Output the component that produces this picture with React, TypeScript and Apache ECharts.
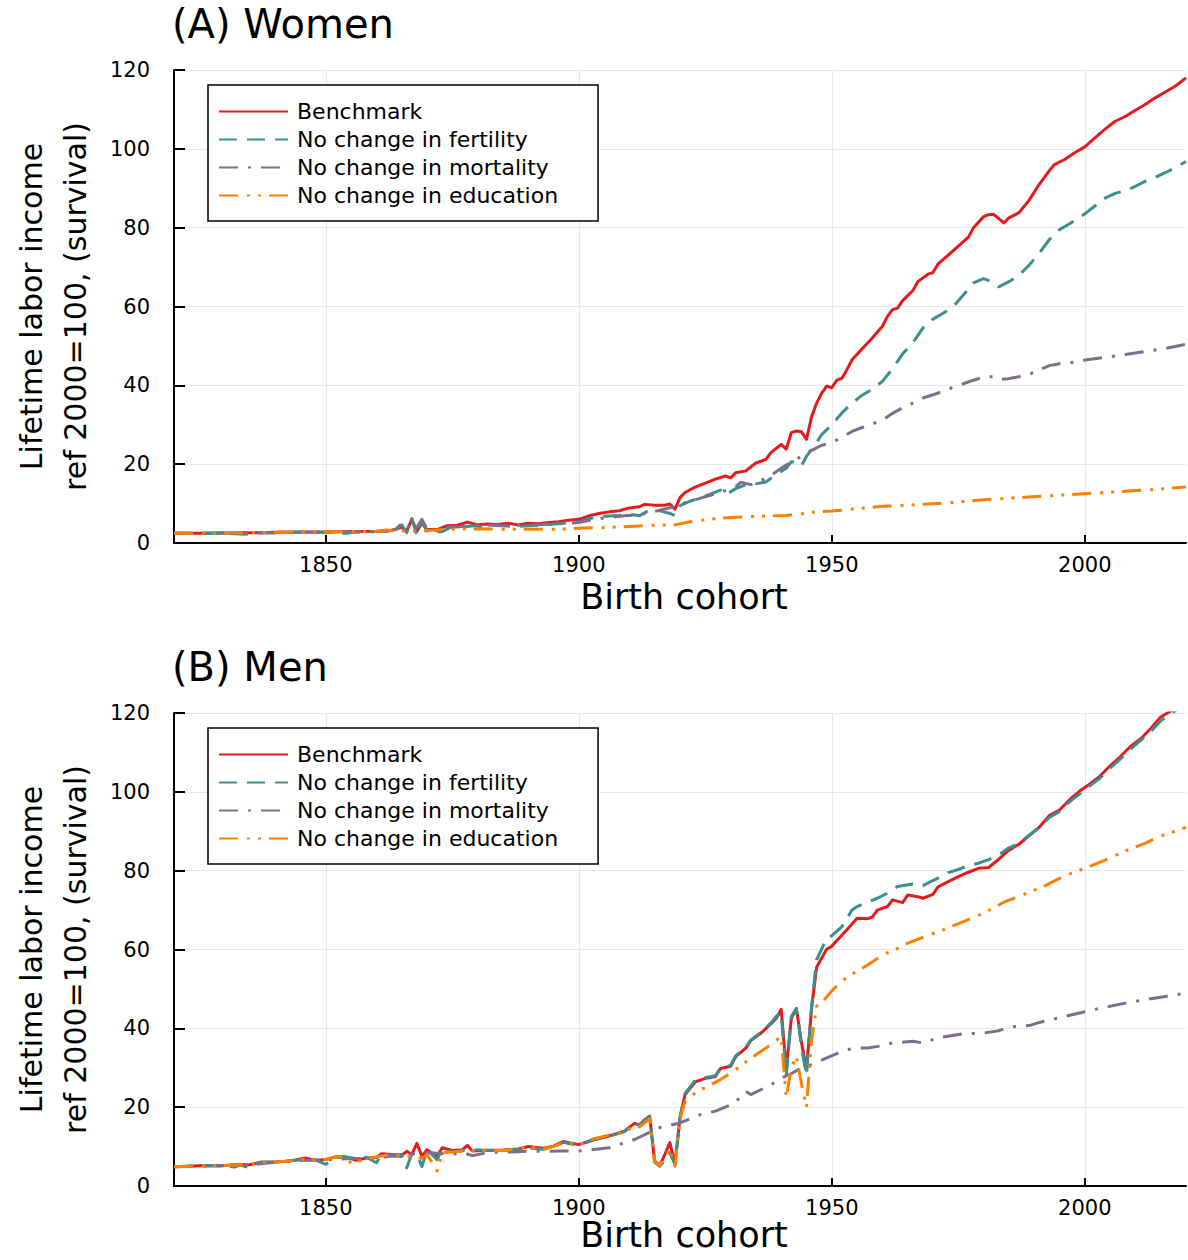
import React, { useEffect, useRef } from "react";
import * as echarts from "echarts";

type Pt = [number, number];

const seriesNames = [
  "Benchmark",
  "No change in fertility",
  "No change in mortality",
  "No change in education",
];
const panelTitles = ["(A) Women", "(B) Men"];
const xTickValues = [1850, 1900, 1950, 2000];
const yAxisLines = ["Lifetime labor income", "ref 2000=100, (survival)"];
const xAxisTitle = "Birth cohort";

// ---------- Women ----------
const womenBenchmark: Pt[] = [
  [1820, 2.5], [1825, 2.5], [1830, 2.6], [1835, 2.6], [1840, 2.7], [1845, 2.8], [1850, 2.8],
  [1855, 2.9], [1860, 3.0], [1863, 3.2], [1865, 4.0], [1866, 3.0], [1867, 6.0], [1868, 3.0],
  [1869, 5.0], [1870, 3.4], [1872, 3.4], [1874, 4.4], [1876, 4.5], [1878, 5.3], [1880, 4.6],
  [1882, 4.8], [1884, 4.7], [1886, 5.0], [1888, 4.6], [1890, 5.0], [1892, 4.9], [1894, 5.2],
  [1896, 5.4], [1898, 5.8], [1900, 6.0], [1902, 6.9], [1904, 7.5], [1906, 7.9], [1908, 8.2],
  [1910, 8.9], [1912, 9.2], [1913, 9.8], [1915, 9.6], [1917, 9.6], [1918, 9.9], [1919, 8.6],
  [1920, 11.5], [1921, 12.8], [1923, 14.2], [1925, 15.2], [1927, 16.2], [1929, 17.0], [1930, 16.5],
  [1931, 17.8], [1933, 18.3], [1935, 20.3], [1937, 21.2], [1938, 23.0], [1940, 25.0], [1941, 23.8],
  [1942, 28.0], [1943, 28.4], [1944, 28.2], [1945, 26.3], [1946, 32.0], [1947, 35.5], [1948, 38.0],
  [1949, 39.8], [1950, 39.4], [1951, 41.3], [1952, 41.8], [1953, 44.0], [1954, 46.5], [1956, 49.3],
  [1958, 52.0], [1960, 55.0], [1961, 57.5], [1962, 59.2], [1963, 59.6], [1964, 61.5], [1966, 64.0],
  [1967, 66.3], [1969, 68.2], [1970, 68.6], [1971, 70.8], [1973, 73.0], [1975, 75.3], [1977, 77.6],
  [1978, 80.0], [1980, 82.8], [1981, 83.3], [1982, 83.4], [1984, 81.2], [1985, 82.5], [1987, 83.8],
  [1989, 87.0], [1991, 91.0], [1993, 94.5], [1994, 96.0], [1996, 97.3], [1998, 99.0], [2000, 100.5],
  [2002, 102.8], [2004, 105.0], [2006, 107.0], [2008, 108.2], [2010, 109.8], [2012, 111.3],
  [2014, 113.0], [2016, 114.5], [2018, 116.0], [2020, 118.0],
];

const womenFertility: Pt[] = [
  [1820, 2.5], [1825, 2.4], [1830, 2.5], [1834, 2.2], [1836, 2.5], [1840, 2.6], [1845, 2.7],
  [1850, 2.7], [1854, 2.5], [1856, 2.8], [1860, 2.9], [1863, 3.1], [1865, 4.6], [1866, 2.6],
  [1867, 6.2], [1868, 2.0], [1869, 5.5], [1870, 3.0], [1871, 2.6], [1873, 2.9], [1875, 4.2],
  [1877, 4.0], [1879, 4.4], [1881, 4.1], [1883, 4.5], [1886, 4.3], [1888, 4.2], [1890, 4.4],
  [1893, 4.6], [1896, 4.9], [1900, 5.4], [1902, 6.2], [1905, 6.8], [1908, 7.0], [1910, 7.3],
  [1912, 6.9], [1914, 8.4], [1916, 8.2], [1918, 7.5], [1919, 7.0], [1920, 9.5], [1922, 10.6],
  [1924, 11.5], [1926, 12.4], [1928, 13.4], [1929, 12.2], [1931, 13.8], [1933, 14.8], [1935, 15.0],
  [1937, 15.5], [1939, 17.4], [1941, 19.0], [1942, 20.6], [1943, 20.5], [1944, 19.6], [1945, 22.0],
  [1947, 25.5], [1948, 27.5], [1950, 30.0], [1952, 33.0], [1954, 35.5], [1956, 37.5], [1958, 39.0],
  [1960, 41.0], [1962, 44.2], [1964, 48.0], [1966, 50.8], [1968, 54.5], [1970, 56.8], [1972, 58.3],
  [1974, 60.0], [1976, 62.9], [1978, 66.0], [1980, 67.1], [1982, 66.0], [1983, 65.0], [1985, 66.3],
  [1987, 67.9], [1989, 70.5], [1991, 73.5], [1993, 77.0], [1995, 79.5], [1997, 81.0], [2000, 83.5],
  [2002, 85.5], [2004, 87.5], [2006, 88.7], [2008, 89.4], [2010, 90.5], [2012, 91.8], [2014, 92.8],
  [2016, 94.0], [2018, 95.3], [2020, 96.8],
];

const womenMortality: Pt[] = [
  [1820, 2.5], [1825, 2.5], [1830, 2.5], [1835, 2.6], [1840, 2.6], [1845, 2.7], [1850, 2.7],
  [1855, 2.8], [1860, 2.9], [1862, 3.0], [1864, 3.5], [1865, 5.0], [1866, 3.6], [1867, 5.2],
  [1868, 4.0], [1869, 6.0], [1870, 3.6], [1872, 3.1], [1873, 4.0], [1875, 4.0], [1877, 4.2],
  [1879, 4.6], [1881, 4.3], [1883, 4.6], [1885, 4.4], [1887, 4.5], [1890, 4.5], [1893, 4.7],
  [1896, 4.9], [1900, 5.2], [1903, 6.0], [1906, 6.5], [1909, 6.9], [1912, 7.2], [1915, 8.0],
  [1919, 9.3], [1921, 10.2], [1923, 11.0], [1926, 12.1], [1929, 13.3], [1931, 14.3], [1932, 15.4],
  [1934, 14.8], [1936, 15.8], [1938, 17.2], [1940, 19.0], [1942, 20.5], [1944, 22.0], [1946, 23.5],
  [1948, 24.8], [1950, 25.5], [1952, 26.8], [1954, 28.3], [1956, 29.3], [1958, 30.2], [1960, 31.2],
  [1962, 32.9], [1964, 34.3], [1966, 35.5], [1968, 36.8], [1970, 37.6], [1972, 38.5], [1974, 39.5],
  [1976, 40.4], [1978, 41.3], [1980, 42.1], [1982, 42.2], [1983, 41.5], [1985, 41.7], [1987, 42.2],
  [1989, 42.8], [1991, 43.9], [1993, 45.0], [1995, 45.5], [1997, 45.7], [2000, 46.4], [2004, 47.1],
  [2008, 47.8], [2012, 48.6], [2016, 49.4], [2020, 50.4],
];

const womenEducation: Pt[] = [
  [1820, 2.5], [1825, 2.5], [1830, 2.6], [1835, 2.6], [1840, 2.7], [1845, 2.8], [1850, 2.8],
  [1855, 2.9], [1860, 2.9], [1862, 3.3], [1864, 3.1], [1866, 3.0], [1868, 3.0], [1870, 3.2],
  [1873, 3.4], [1876, 3.5], [1880, 3.6], [1885, 3.5], [1890, 3.5], [1895, 3.5], [1898, 3.6],
  [1901, 3.8], [1905, 3.9], [1910, 4.2], [1915, 4.5], [1919, 4.6], [1922, 5.4], [1925, 5.9],
  [1928, 6.3], [1932, 6.6], [1936, 6.8], [1941, 7.0], [1944, 7.4], [1946, 7.8], [1948, 8.0],
  [1950, 8.1], [1955, 8.7], [1960, 9.3], [1965, 9.6], [1968, 9.8], [1972, 10.1], [1976, 10.5],
  [1980, 11.0], [1984, 11.3], [1988, 11.6], [1992, 11.9], [1996, 12.2], [2000, 12.5], [2005, 12.9],
  [2010, 13.3], [2015, 13.7], [2020, 14.2],
];

// ---------- Men ----------
const menBenchmark: Pt[] = [
  [1820, 4.9], [1823, 5.0], [1826, 5.2], [1829, 5.1], [1832, 5.4], [1835, 5.4], [1837, 6.0],
  [1840, 6.1], [1842, 6.3], [1844, 6.6], [1846, 7.1], [1848, 6.5], [1850, 6.7], [1852, 7.4],
  [1854, 7.4], [1856, 6.5], [1858, 7.1], [1860, 7.2], [1861, 8.2], [1863, 8.0], [1865, 7.8],
  [1866, 8.8], [1867, 8.0], [1868, 10.8], [1869, 7.5], [1870, 9.2], [1872, 7.5], [1873, 9.7],
  [1875, 9.0], [1877, 9.2], [1878, 10.3], [1879, 8.9], [1882, 9.1], [1885, 9.1], [1888, 9.4],
  [1890, 10.0], [1893, 9.6], [1895, 10.1], [1897, 11.3], [1898, 11.0], [1900, 10.5], [1903, 11.8],
  [1906, 12.7], [1909, 13.9], [1911, 15.9], [1912, 15.5], [1913, 16.8], [1914, 17.7], [1915, 6.3],
  [1916, 5.2], [1917, 8.0], [1918, 11.0], [1919, 5.5], [1920, 17.3], [1921, 23.2], [1923, 26.4],
  [1925, 27.3], [1927, 27.8], [1928, 29.8], [1930, 30.4], [1931, 32.8], [1933, 35.0], [1934, 36.9],
  [1936, 38.8], [1938, 41.2], [1939, 42.5], [1940, 44.8], [1941, 29.5], [1942, 42.5], [1943, 45.0],
  [1944, 36.5], [1945, 29.5], [1946, 45.0], [1947, 55.5], [1949, 60.1], [1950, 60.8], [1951, 62.3],
  [1953, 65.0], [1955, 67.9], [1957, 67.8], [1958, 68.2], [1959, 70.0], [1961, 70.9], [1962, 72.6],
  [1964, 71.9], [1965, 73.8], [1967, 73.4], [1968, 73.0], [1970, 74.0], [1971, 75.9], [1973, 77.2],
  [1975, 78.5], [1977, 79.6], [1979, 80.6], [1981, 80.8], [1983, 82.9], [1985, 85.2], [1987, 86.7],
  [1989, 88.9], [1991, 91.0], [1993, 94.0], [1995, 95.4], [1997, 98.0], [1999, 100.2], [2001, 102.0],
  [2003, 104.0], [2005, 106.6], [2007, 108.9], [2009, 111.5], [2011, 113.4], [2013, 116.0],
  [2015, 119.0], [2017, 120.5], [2020, 123.0],
];

const menFertility: Pt[] = [
  [1820, 4.9], [1823, 5.0], [1826, 5.1], [1829, 5.2], [1832, 4.8], [1833, 5.3], [1835, 4.6],
  [1837, 6.0], [1840, 6.1], [1842, 6.2], [1844, 6.5], [1846, 6.9], [1848, 6.6], [1850, 5.5],
  [1852, 7.2], [1854, 7.3], [1856, 7.0], [1858, 7.3], [1860, 5.9], [1861, 8.0], [1863, 7.8],
  [1865, 8.0], [1866, 4.6], [1867, 8.2], [1868, 8.0], [1869, 4.9], [1870, 9.3], [1872, 6.7],
  [1873, 9.3], [1875, 8.6], [1877, 9.0], [1879, 9.2], [1882, 9.0], [1885, 9.1], [1888, 9.3],
  [1890, 9.7], [1893, 9.3], [1895, 10.0], [1897, 11.1], [1898, 10.8], [1900, 10.4], [1903, 11.7],
  [1906, 12.6], [1909, 13.8], [1911, 15.8], [1912, 15.4], [1913, 16.6], [1914, 17.5], [1915, 6.0],
  [1916, 5.0], [1917, 6.5], [1918, 8.4], [1919, 5.5], [1920, 17.5], [1921, 23.5], [1923, 26.8],
  [1925, 27.5], [1927, 28.0], [1928, 29.8], [1930, 30.6], [1931, 33.0], [1933, 35.2], [1934, 37.0],
  [1936, 39.0], [1938, 41.4], [1939, 43.0], [1940, 44.0], [1941, 28.0], [1942, 43.0], [1943, 45.0],
  [1944, 35.5], [1945, 28.0], [1946, 45.5], [1947, 57.4], [1949, 62.9], [1950, 63.5], [1952, 65.8],
  [1954, 70.0], [1955, 70.9], [1957, 72.0], [1959, 73.0], [1961, 74.3], [1963, 76.0], [1966, 76.6],
  [1968, 76.2], [1970, 77.5], [1971, 78.1], [1973, 79.5], [1975, 80.3], [1977, 81.3], [1979, 81.9],
  [1981, 82.8], [1983, 84.0], [1985, 85.8], [1987, 86.9], [1989, 89.0], [1991, 91.0], [1993, 93.5],
  [1995, 95.0], [1997, 97.5], [1999, 99.5], [2001, 101.5], [2003, 103.5], [2005, 106.0],
  [2007, 108.3], [2009, 110.8], [2011, 113.0], [2013, 115.3], [2015, 118.0], [2017, 119.8],
  [2020, 122.5],
];

const menMortality: Pt[] = [
  [1820, 4.9], [1825, 5.1], [1830, 5.2], [1835, 5.4], [1840, 6.0], [1845, 6.5], [1850, 6.6],
  [1855, 7.0], [1860, 7.0], [1863, 7.6], [1865, 7.5], [1867, 8.3], [1868, 8.0], [1870, 8.5],
  [1872, 8.3], [1875, 8.0], [1877, 8.5], [1879, 7.7], [1882, 8.5], [1885, 8.6], [1888, 8.7],
  [1890, 8.8], [1893, 8.8], [1896, 8.9], [1900, 8.9], [1902, 9.1], [1906, 9.7], [1911, 11.8],
  [1916, 14.8], [1920, 16.0], [1924, 18.1], [1927, 19.0], [1931, 21.1], [1932, 23.0], [1933, 24.0],
  [1934, 23.2], [1938, 25.7], [1941, 28.0], [1942, 28.5], [1944, 30.0], [1946, 30.8], [1949, 32.5],
  [1951, 33.6], [1953, 34.6], [1955, 35.0], [1957, 35.0], [1960, 35.6], [1962, 36.3], [1966, 36.7],
  [1968, 36.3], [1971, 37.6], [1976, 38.6], [1980, 38.8], [1983, 39.4], [1985, 40.3], [1989, 40.7],
  [1991, 41.5], [1994, 42.4], [1996, 43.0], [2000, 44.2], [2003, 45.1], [2008, 46.4], [2012, 47.3],
  [2016, 48.1], [2020, 48.9],
];

const menEducation: Pt[] = [
  [1820, 4.9], [1823, 5.0], [1826, 5.1], [1829, 5.2], [1832, 5.3], [1835, 5.4], [1837, 6.0],
  [1840, 6.1], [1842, 6.3], [1844, 6.5], [1846, 6.9], [1848, 6.6], [1850, 6.8], [1852, 7.4],
  [1854, 7.4], [1855, 5.7], [1857, 6.5], [1859, 7.2], [1861, 7.6], [1863, 8.0], [1865, 7.6],
  [1867, 7.5], [1869, 7.0], [1870, 8.0], [1871, 6.0], [1872, 3.8], [1873, 8.5], [1875, 8.6],
  [1877, 8.8], [1879, 9.0], [1882, 9.0], [1885, 9.0], [1888, 9.4], [1890, 10.0], [1893, 9.4],
  [1895, 10.0], [1897, 11.0], [1898, 10.8], [1900, 10.5], [1903, 12.0], [1906, 12.9], [1909, 13.6],
  [1911, 15.3], [1912, 15.0], [1913, 16.0], [1914, 17.0], [1915, 6.2], [1916, 5.2], [1917, 7.0],
  [1918, 9.5], [1919, 5.0], [1920, 17.0], [1921, 21.5], [1923, 23.6], [1925, 25.0], [1927, 26.3],
  [1929, 27.8], [1931, 29.5], [1933, 31.5], [1935, 33.3], [1937, 35.0], [1939, 37.0], [1940, 37.8],
  [1941, 22.5], [1942, 30.0], [1943, 32.9], [1944, 26.0], [1945, 20.0], [1946, 37.0], [1947, 45.6],
  [1948, 46.5], [1950, 49.5], [1951, 50.8], [1953, 53.0], [1955, 54.5], [1957, 56.0], [1960, 58.6],
  [1963, 60.3], [1965, 61.6], [1968, 63.1], [1972, 65.0], [1976, 67.1], [1980, 69.2], [1984, 72.0],
  [1988, 74.0], [1992, 76.1], [1996, 78.7], [2000, 80.6], [2004, 82.7], [2008, 85.0], [2012, 87.0],
  [2015, 88.8], [2017, 89.6], [2020, 91.0],
];

const panelData: Pt[][][] = [
  [womenBenchmark, womenFertility, womenMortality, womenEducation],
  [menBenchmark, menFertility, menMortality, menEducation],
];

// ---------- styles ----------
const COLORS = ["#e41a1c", "#3b8f8f", "#7d6e8c", "#ff8000"];
const DASHES: any[] = ["solid", [18, 10], [19, 10, 3, 10], [19, 9, 3, 8, 3, 8]];
const FONT = "DejaVu Sans";
const GRID_LEFT = 174;
const GRID_W = 1012;
const GRID_H = 473;
const GRID_TOPS = [70, 713];
const XNAME_OFFSETS = [54, 49];

export default function App() {
  const ref = useRef<HTMLDivElement>(null);

  useEffect(() => {
    if (!ref.current) return;
    const chart = echarts.init(ref.current, undefined, { renderer: "svg" });

    const grids = GRID_TOPS.map((top) => ({
      left: GRID_LEFT,
      top,
      width: GRID_W,
      height: GRID_H,
      containLabel: false,
      outerBoundsMode: "none",
    }));

    const xAxes = GRID_TOPS.map((_, i) => ({
      type: "value",
      gridIndex: i,
      min: 1820,
      max: 2020,
      axisLine: { show: true, onZero: false, lineStyle: { color: "#000", width: 2 } },
      axisTick: { show: true, inside: true, length: 8, customValues: xTickValues, lineStyle: { color: "#000", width: 2 } },
      axisLabel: {
        customValues: xTickValues,
        color: "#000",
        fontSize: 21,
        fontFamily: FONT,
        margin: 11,
        formatter: (v: number) => String(v),
      },
      splitLine: { show: true, lineStyle: { color: "#e8e8e8", width: 1 } },
    }));

    const yAxes = GRID_TOPS.map((_, i) => ({
      type: "value",
      gridIndex: i,
      min: 0,
      max: 120,
      interval: 20,
      axisLine: { show: true, lineStyle: { color: "#000", width: 2 } },
      axisTick: { show: true, inside: true, length: 11, lineStyle: { color: "#000", width: 2 } },
      axisLabel: { color: "#000", fontSize: 21, fontFamily: FONT, margin: 24 },
      splitLine: { show: true, lineStyle: { color: "#e8e8e8", width: 1 } },
    }));

    const series: any[] = [];
    panelData.forEach((panel, p) => {
      panel.forEach((data, k) => {
        series.push({
          type: "line",
          name: seriesNames[k],
          xAxisIndex: p,
          yAxisIndex: p,
          data,
          symbol: "none",
          showSymbol: false,
          clip: true,
          z: 2 + k,
          color: COLORS[k],
          itemStyle: { color: COLORS[k] },
          lineStyle: { color: COLORS[k], width: 3, type: DASHES[k], cap: "butt", join: "round" },
          emphasis: { disabled: true },
        });
      });
    });

    const legends = GRID_TOPS.map((top) => ({
      data: seriesNames,
      orient: "vertical",
      left: 208,
      top: top + 15,
      padding: [13, 40, 12, 10],
      itemWidth: 69,
      itemHeight: 14,
      itemGap: 1,
      backgroundColor: "#fff",
      borderColor: "#000",
      borderWidth: 1.5,
      borderRadius: 0,
      selectedMode: false,
      itemStyle: { opacity: 0, borderWidth: 0 },
      lineStyle: { width: 2 },
      textStyle: { color: "#000", fontSize: 22, fontFamily: FONT, lineHeight: 27, padding: [0, 0, 0, 4] },
    }));

    const graphics: any[] = [];
    GRID_TOPS.forEach((top, i) => {
      const mid = top + GRID_H / 2;
      graphics.push({
        type: "text",
        x: 172,
        y: top - 46,
        style: {
          text: panelTitles[i],
          fontSize: 40,
          fontFamily: FONT,
          fill: "#000",
          align: "left",
          verticalAlign: "middle",
        },
      });
      graphics.push({
        type: "text",
        x: GRID_LEFT + GRID_W / 2 + 4,
        y: top + GRID_H + XNAME_OFFSETS[i],
        style: {
          text: xAxisTitle,
          fontSize: 35,
          fontFamily: FONT,
          fill: "#000",
          align: "center",
          verticalAlign: "middle",
        },
      });
      yAxisLines.forEach((line, j) => {
        graphics.push({
          type: "text",
          x: 31 + j * 44,
          y: mid,
          rotation: Math.PI / 2,
          style: {
            text: line,
            fontSize: 30,
            fontFamily: FONT,
            fill: "#000",
            align: "center",
            verticalAlign: "middle",
          },
        });
      });
    });

    chart.setOption({
      animation: false,
      backgroundColor: "#fff",
      grid: grids,
      xAxis: xAxes,
      yAxis: yAxes,
      legend: legends,
      series,
      graphic: graphics,
    });

    return () => chart.dispose();
  }, []);

  return (
    <div
      ref={ref}
      style={{ position: "absolute", left: 0, top: 0, width: 1188, height: 1260 }}
    />
  );
}
